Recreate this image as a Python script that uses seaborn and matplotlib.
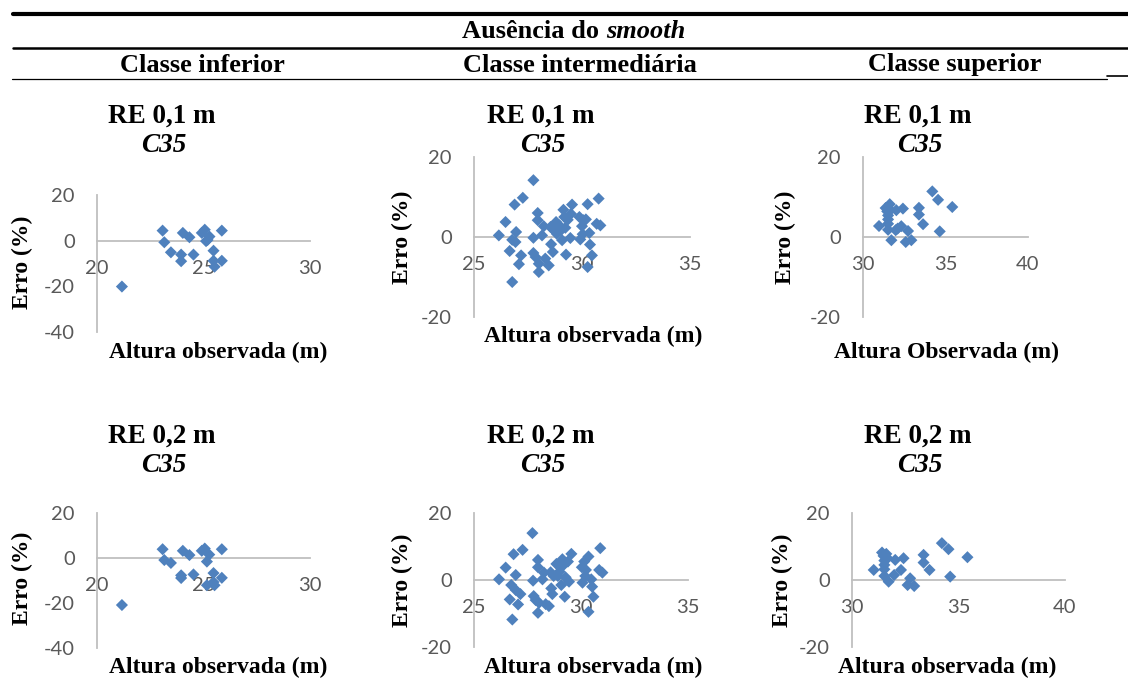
import matplotlib
matplotlib.use("Agg")
import matplotlib.pyplot as plt
import seaborn as sns
from matplotlib.lines import Line2D

sns.set_theme(style="white")
plt.rcParams["font.family"] = ["Liberation Serif", "DejaVu Serif"]
plt.rcParams["text.color"] = "black"
plt.rcParams["axes.unicode_minus"] = False

BLUE = "#4F81BD"
AXIS_GRAY = "#BFBFBF"
TICK_GRAY = "#595959"

# --- data ---
# RE 0,1 m - Classe inferior
inf1_x = [21.17, 23.08, 23.16, 23.47, 23.95, 23.95, 24.03, 24.34, 24.53, 24.92,
          25.06, 25.19, 25.28, 25.47, 25.47, 25.52, 25.86, 25.86, 25.12]
inf1_y = [-20.1, 4.4, -0.7, -5.1, -6.1, -9.0, 3.4, 1.5, -6.1, 3.4,
          4.8, 0.3, 1.8, -4.4, -8.8, -11.4, -8.8, 4.4, -0.2]

# RE 0,1 m - Classe intermediaria
int1_x = [26.15, 26.46, 26.65, 26.77, 26.77, 26.88, 26.92, 26.95, 27.08, 27.18,
          27.26, 27.75, 27.75, 27.75, 27.85, 27.95, 27.95, 28.0, 28.0, 28.15,
          28.23, 28.3, 28.46, 28.54, 28.57, 28.65, 28.68, 28.8, 28.83, 28.95,
          29.03, 29.08, 29.14, 29.18, 29.23, 29.26, 29.34, 29.46, 29.49, 29.54,
          29.88, 29.92, 30.0, 30.03, 30.06, 30.18, 30.26, 30.26, 30.34, 30.37,
          30.46, 30.68, 30.77, 30.85]
int1_y = [0.4, 3.75, -3.5, -11.25, -0.7, 8.1, -1.25, 1.25, -6.8, -4.6,
          9.8, 14.2, -0.2, -4.0, -5.0, 6.0, 4.2, -6.7, -8.75, 0.4,
          2.7, -5.4, -7.1, 2.5, -1.8, -3.75, 1.8, 3.75, 0.8, 2.9,
          1.7, -0.8, 6.8, 5.0, 2.3, -4.4, 4.3, -0.25, 5.8, 8.1,
          5.0, -0.6, 2.7, 0.7, 4.2, 4.4, -7.5, 8.2, 1.0, -1.9,
          -4.6, 3.3, 9.6, 2.9]

# RE 0,1 m - Classe superior
sup1_x = [30.97, 31.37, 31.47, 31.52, 31.52, 31.52, 31.52, 31.62, 31.66, 31.72,
          31.98, 32.02, 32.32, 32.42, 32.59, 32.73, 32.93, 33.39, 33.39, 33.64,
          34.2, 34.55, 34.65, 35.41, 32.1]
sup1_y = [2.75, 7.25, 6.4, 5.4, 4.4, 3.3, 1.8, 8.2, 6.7, -0.8,
          1.7, 6.7, 2.7, 7.1, -1.25, 1.5, -0.8, 7.3, 5.6, 3.2,
          11.4, 9.3, 1.4, 7.5, 2.1]

# RE 0,2 m - Classe inferior
inf2_x = [21.17, 23.08, 23.16, 23.47, 23.95, 23.95, 24.03, 24.34, 24.53, 24.92,
          25.06, 25.16, 25.27, 25.47, 25.47, 25.52, 25.86, 25.86, 25.16]
inf2_y = [-20.9, 3.9, -0.9, -2.2, -7.7, -8.9, 3.2, 1.3, -7.3, 3.2,
          4.2, -1.6, 1.5, -6.7, -10.7, -12.1, -8.8, 3.9, -12.1]

# RE 0,2 m - Classe intermediaria
int2_x = [26.17, 26.48, 26.67, 26.79, 26.74, 26.85, 26.95, 26.95, 27.06, 27.17,
          27.27, 27.73, 27.76, 27.79, 27.88, 27.99, 27.99, 28.04, 27.99, 28.2,
          28.27, 28.35, 28.5, 28.58, 28.61, 28.66, 28.72, 28.85, 28.92, 29.0,
          29.08, 29.13, 29.19, 29.24, 29.28, 29.39, 29.44, 29.55, 30.04, 30.07,
          30.15, 30.2, 30.23, 30.35, 30.35, 30.48, 30.52, 30.58, 30.85, 30.9,
          31.0]
int2_y = [0.2, 3.7, -5.8, -11.8, -1.5, 7.7, -3.0, 1.5, -7.3, -4.2,
          9.0, 14.0, -0.2, -4.8, -6.0, 6.0, 3.8, -6.8, -9.8, 0.2,
          2.2, -7.2, -7.8, 2.3, -2.5, -4.2, 1.2, 4.8, 1.2, 2.5,
          -1.5, 6.2, 4.5, -5.0, 0.8, 5.5, -0.5, 7.8, 3.8, -0.8,
          5.5, 1.2, 3.0, 7.0, -9.5, 0.2, -2.0, -5.0, 3.0, 9.5,
          2.2]

# RE 0,2 m - Classe superior
sup2_x = [31.02, 31.41, 31.48, 31.52, 31.52, 31.52, 31.52, 31.61, 31.67, 31.72,
          31.98, 32.03, 32.3, 32.42, 32.61, 32.73, 32.92, 33.36, 33.36, 33.64,
          34.22, 34.53, 34.61, 35.42]
sup2_y = [3.0, 8.2, 7.2, 5.8, 4.5, 3.2, 1.2, 7.8, 6.5, -0.5,
          1.5, 6.0, 3.0, 6.5, -1.5, 0.5, -1.8, 7.5, 5.2, 3.0,
          11.0, 9.2, 1.0, 6.8]

W, H = 1128, 678
fig = plt.figure(figsize=(W / 100, H / 100), dpi=100)
fig.patch.set_facecolor("white")


def fx(px):
    return px / W


def fy(py):
    return 1 - py / H


def panel(box, x, y, xlim, xticks, ylim, yticks):
    l, t, r, b = box
    ax = fig.add_axes([fx(l), fy(b), (r - l) / W, (b - t) / H])
    ax.set_facecolor("none")
    sns.scatterplot(x=x, y=y, ax=ax, marker="D", color=BLUE, s=38,
                    edgecolor="none", legend=False, zorder=3)
    ax.set_xlim(xlim)
    ax.set_ylim(ylim)
    ax.set_xticks(xticks)
    ax.set_yticks(yticks)
    ax.set_xlabel("")
    ax.set_ylabel("")
    for s in ["top", "right"]:
        ax.spines[s].set_visible(False)
    ax.spines["bottom"].set_position(("data", 0))
    for s in ["left", "bottom"]:
        ax.spines[s].set_color(AXIS_GRAY)
        ax.spines[s].set_linewidth(1.3)
    ax.tick_params(axis="x", length=0, pad=14, labelsize=14.5, labelcolor=TICK_GRAY)
    ax.tick_params(axis="y", length=0, pad=16, labelsize=14.5, labelcolor=TICK_GRAY)
    for lab in ax.get_xticklabels() + ax.get_yticklabels():
        lab.set_fontfamily("Lato")
    ax.grid(False)
    return ax


panel((97, 195, 310, 332), inf1_x, inf1_y, (20, 30), [20, 25, 30], (-40, 20), [-40, -20, 0, 20])
panel((474, 157, 690, 317), int1_x, int1_y, (25, 35), [25, 30, 35], (-20, 20), [-20, 0, 20])
panel((863, 157, 1028, 317), sup1_x, sup1_y, (30, 40), [30, 35, 40], (-20, 20), [-20, 0, 20])
panel((97, 513, 310, 648), inf2_x, inf2_y, (20, 30), [20, 25, 30], (-40, 20), [-40, -20, 0, 20])
panel((474, 513, 688, 647), int2_x, int2_y, (25, 35), [25, 30, 35], (-20, 20), [-20, 0, 20])
panel((852, 513, 1065, 647), sup2_x, sup2_y, (30, 40), [30, 35, 40], (-20, 20), [-20, 0, 20])

# table rules
fig.add_artist(Line2D([fx(13), 1], [fy(14), fy(14)], color="black", lw=3.0))
fig.add_artist(Line2D([fx(13), 1], [fy(48), fy(48)], color="black", lw=1.8))
fig.add_artist(Line2D([fx(12), fx(1107)], [fy(79), fy(79)], color="black", lw=0.9))
fig.add_artist(Line2D([fx(1107), 1], [fy(76), fy(76)], color="black", lw=1.2))

# header texts
fig.text(fx(606), fy(32), "Ausência do ", ha="right", va="center",
         fontsize=19, fontweight="bold")
fig.text(fx(606), fy(32), "smooth", ha="left", va="center",
         fontsize=19, fontweight="bold", fontstyle="italic")
for cx, txt in [(202, "Classe inferior"), (580, "Classe intermediária"), (955, "Classe superior")]:
    fig.text(fx(cx), fy(65), txt, ha="center", va="center", fontsize=19, fontweight="bold")

# panel titles
for cx in [162, 541, 918]:
    fig.text(fx(cx), fy(116), "RE 0,1 m", ha="center", va="center", fontsize=19.5, fontweight="bold")
    fig.text(fx(cx + 2), fy(146), "C35", ha="center", va="center", fontsize=19.5,
             fontweight="bold", fontstyle="italic")
    fig.text(fx(cx), fy(436), "RE 0,2 m", ha="center", va="center", fontsize=19.5, fontweight="bold")
    fig.text(fx(cx + 2), fy(466), "C35", ha="center", va="center", fontsize=19.5,
             fontweight="bold", fontstyle="italic")

# axis titles
for cx, cy, txt in [(218, 352, "Altura observada (m)"), (593, 336, "Altura observada (m)"),
                    (947, 352, "Altura Observada (m)"), (218, 667, "Altura observada (m)"),
                    (593, 667, "Altura observada (m)"), (947, 667, "Altura observada (m)")]:
    fig.text(fx(cx), fy(cy), txt, ha="center", va="center", fontsize=17, fontweight="bold")

for cx, cy in [(22, 262), (402, 237), (785, 237), (22, 578), (402, 580), (782, 580)]:
    fig.text(fx(cx), fy(cy), "Erro (%)", ha="center", va="center", rotation=90,
             fontsize=17, fontweight="bold")

fig.savefig("out.png", dpi=100, facecolor="white")
